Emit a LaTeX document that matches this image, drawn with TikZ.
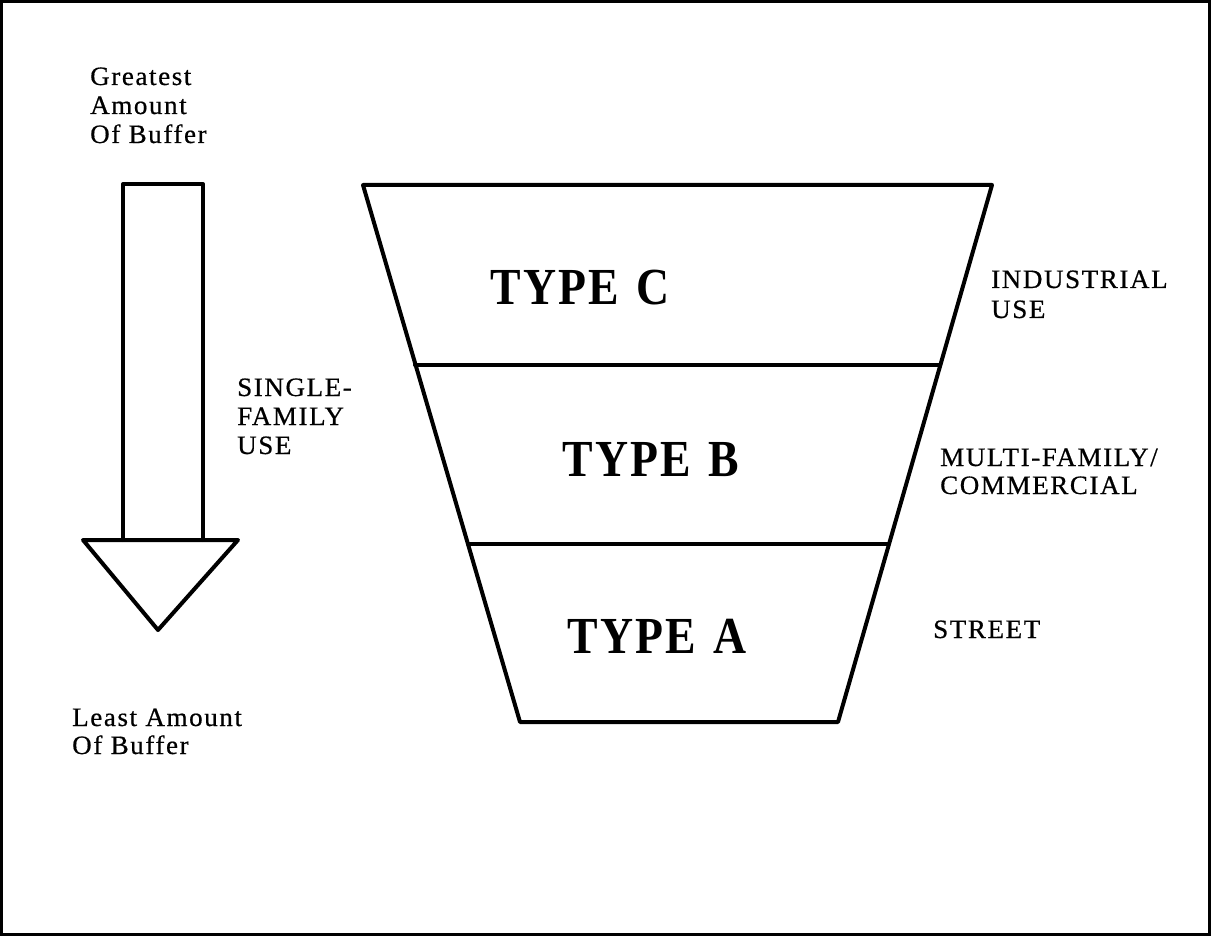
\documentclass[tikz,border=0pt]{standalone}
\usepackage{fontspec}
\setmainfont{Liberation Serif}
\newfontfamily\labfont[LetterSpace=6,FakeStretch=1.02,FakeBold=0.6]{Liberation Serif}
\newfontfamily\typfont[FakeStretch=0.88,LetterSpace=4]{Liberation Serif}
\begin{document}
\begin{tikzpicture}[x=1pt,y=-1pt,
  lbl/.style={anchor=base west,inner sep=0pt,font=\labfont\fontsize{26.5}{29}\selectfont},
  typ/.style={anchor=base,inner sep=0pt,font=\typfont\bfseries\fontsize{52}{56}\selectfont},
  edge/.style={line width=4pt,line cap=round,line join=round}]
\useasboundingbox (0,0) rectangle (1211,936);
\draw[line width=3pt] (1.5,1.5) rectangle (1209.5,934.5);
% arrow
\coordinate (s1) at (123,540);
\coordinate (s2) at (123,184);
\coordinate (s3) at (203,184);
\coordinate (s4) at (203,540);
\coordinate (h1) at (83,540);
\coordinate (h2) at (238,540);
\coordinate (h3) at (158,630);
\draw[edge] (s1) -- (s2) -- (s3) -- (s4);
\draw[edge] (h1) -- (h2) -- (h3) -- cycle;
% funnel
\coordinate (tl) at (363,185);
\coordinate (tr) at (992,185);
\coordinate (ml) at (415,365);
\coordinate (mr) at (940,365);
\coordinate (nl) at (468,544);
\coordinate (nr) at (888,544);
\coordinate (bl) at (520,722);
\coordinate (br) at (838,722);
\draw[edge] (tl) -- (tr) -- (br) -- (bl) -- cycle;
\draw[edge] (ml) -- (mr);
\draw[edge] (nl) -- (nr);
% type labels
\node[typ] (tc) at (580,305) {TYPE\hspace{4pt} C};
\node[typ] (tb) at (651,476) {TYPE\hspace{4pt} B};
\node[typ] (ta) at (657,653) {TYPE\hspace{4pt} A};
% side labels
\node[lbl] (g1) at (90,85) {Greatest};
\node[lbl] (g2) at (90,114) {Amount};
\node[lbl] (g3) at (90,143) {Of Buffer};
\node[lbl] (l1) at (72,726) {Least Amount};
\node[lbl] (l2) at (72,754) {Of Buffer};
\node[lbl] (sf1) at (237,396) {SINGLE-};
\node[lbl] (sf2) at (237,425) {FAMILY};
\node[lbl] (sf3) at (237,454) {USE};
\node[lbl] (in1) at (991,288) {INDUSTRIAL};
\node[lbl] (in2) at (991,318) {USE};
\node[lbl] (mf1) at (940,466) {MULTI-FAMILY/};
\node[lbl] (mf2) at (940,494) {COMMERCIAL};
\node[lbl] (st) at (933,638) {STREET};
\end{tikzpicture}
\end{document}
